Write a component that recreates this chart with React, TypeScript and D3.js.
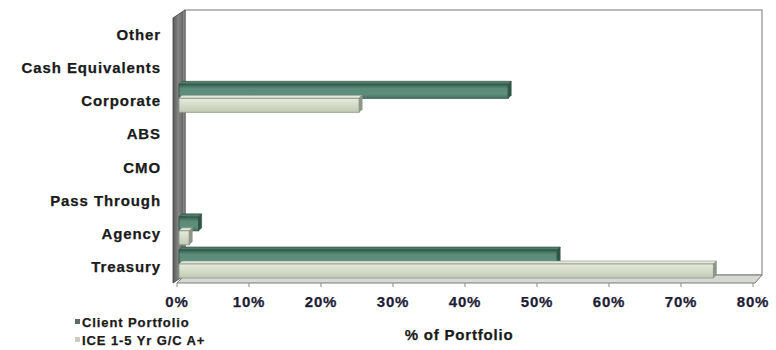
import React from "react";
import * as d3 from "d3";

// Sector allocation, listed top to bottom as drawn
const categories = [
  "Other",
  "Cash Equivalents",
  "Corporate",
  "ABS",
  "CMO",
  "Pass Through",
  "Agency",
  "Treasury",
];
const clientPortfolio = [0, 0, 46, 0, 0, 0, 3, 52.8];
const benchmark = [0, 0, 25.3, 0, 0, 0, 1.7, 74.5];
const seriesNames = ["Client Portfolio", "ICE 1-5 Yr G/C A+"];
const tickValues = [0, 10, 20, 30, 40, 50, 60, 70, 80];

const W = 776;
const H = 350;
const DEPTH = 8; // 3D offset of the back plane
const FRONT_LEFT = 177;
const FRONT_RIGHT = 753;
const TOP = 18;
const BOTTOM = 283;

const LABEL_FONT = "'Liberation Sans', Arial, sans-serif";

export default function App() {
  const x = d3.scaleLinear().domain([0, 80]).range([FRONT_LEFT, FRONT_RIGHT]);
  const y = d3.scalePoint<string>().domain(categories).range([35, 267]);

  const barH = 14;
  const cap = 3;

  const bar = (
    key: string,
    v: number,
    yTop: number,
    top: string,
    end: string,
    stroke: string,
    gradId: string
  ) => {
    if (v <= 0) return null;
    const x0 = x(0) + 2;
    const x1 = x(v);
    return (
      <g key={key}>
        <path
          d={`M${x0},${yTop} L${x0 + cap},${yTop - cap} L${x1 + cap},${yTop - cap} L${x1},${yTop} Z`}
          fill={top}
          stroke={stroke}
          strokeWidth={0.6}
        />
        <rect
          x={x0}
          y={yTop}
          width={x1 - x0}
          height={barH}
          fill={`url(#${gradId})`}
          stroke={stroke}
          strokeWidth={0.8}
        />
        <path
          d={`M${x1},${yTop} L${x1 + cap},${yTop - cap} L${x1 + cap},${yTop + barH - cap} L${x1},${yTop + barH} Z`}
          fill={end}
          stroke={stroke}
          strokeWidth={0.6}
        />
      </g>
    );
  };

  const backL = FRONT_LEFT + DEPTH;
  const backR = FRONT_RIGHT + DEPTH + 1;
  const backTop = TOP - DEPTH;
  const backBottom = BOTTOM - DEPTH;

  const textStyle = {
    fontFamily: LABEL_FONT,
    fontWeight: "bold" as const,
    stroke: "#1a1a1a",
    strokeWidth: 0.25,
  };

  return (
    <svg
      width={W}
      height={H}
      style={{ position: "absolute", left: 0, top: 0, background: "#ffffff" }}
    >
      <defs>
        <linearGradient id="wallGrad" x1="0" y1="0" x2="1" y2="0">
          <stop offset="0" stopColor="#5a5a5a" />
          <stop offset="0.45" stopColor="#858585" />
          <stop offset="0.8" stopColor="#6a6a6a" />
          <stop offset="1" stopColor="#b0b0b0" />
        </linearGradient>
        <linearGradient id="clientGrad" x1="0" y1="0" x2="0" y2="1">
          <stop offset="0" stopColor="#35604f" />
          <stop offset="0.3" stopColor="#5a8a79" />
          <stop offset="0.7" stopColor="#5f8e7d" />
          <stop offset="1" stopColor="#46715f" />
        </linearGradient>
        <linearGradient id="benchGrad" x1="0" y1="0" x2="0" y2="1">
          <stop offset="0" stopColor="#e6ebdc" />
          <stop offset="0.5" stopColor="#d3dbc7" />
          <stop offset="1" stopColor="#c2cab6" />
        </linearGradient>
      </defs>

      {/* back wall */}
      <rect
        x={backL}
        y={backTop}
        width={backR - backL}
        height={backBottom - backTop}
        fill="#ffffff"
        stroke="#8c8c8c"
        strokeWidth={1.2}
      />

      {/* floor */}
      <path
        d={`M${FRONT_LEFT},${BOTTOM} L${backL},${backBottom} L${backR},${backBottom} L${FRONT_RIGHT + 2},${BOTTOM} Z`}
        fill="#d6d9d2"
        stroke="#7d7d7d"
        strokeWidth={1}
      />

      {/* left wall */}
      <path
        d={`M${FRONT_LEFT - 4},${TOP} L${backL},${backTop} L${backL},${backBottom} L${FRONT_LEFT - 4},${BOTTOM} Z`}
        fill="url(#wallGrad)"
        stroke="#3c3c3c"
        strokeWidth={0.8}
      />

      {/* bars */}
      {categories.map((c, i) => {
        const cy = y(c) as number;
        return (
          <g key={c}>
            {bar(
              `client-${c}`,
              clientPortfolio[i],
              cy - 17,
              "#4f7b6b",
              "#2f5646",
              "#2e4f42",
              "clientGrad"
            )}
            {bar(
              `bench-${c}`,
              benchmark[i],
              cy - 3,
              "#e3e8da",
              "#8f9788",
              "#8a9385",
              "benchGrad"
            )}
          </g>
        );
      })}

      {/* axis ticks */}
      {tickValues.map((t) => (
        <line
          key={`tick-${t}`}
          x1={x(t)}
          x2={x(t)}
          y1={BOTTOM}
          y2={BOTTOM + 4}
          stroke="#8a8a8a"
          strokeWidth={1}
        />
      ))}

      {/* category labels */}
      {categories.map((c) => (
        <text
          key={`lab-${c}`}
          x={161}
          y={(y(c) as number) + 5}
          textAnchor="end"
          fontSize={15}
          letterSpacing={0.9}
          fill="#1a1a1a"
          {...textStyle}
        >
          {c}
        </text>
      ))}

      {/* tick labels */}
      {tickValues.map((t) => (
        <text
          key={`tl-${t}`}
          x={x(t)}
          y={307}
          textAnchor="middle"
          fontSize={15}
          letterSpacing={0.8}
          fill="#1c1c36"
          {...textStyle}
          stroke="#1c1c36"
        >
          {`${t}%`}
        </text>
      ))}

      {/* axis title */}
      <text
        x={459}
        y={340}
        textAnchor="middle"
        fontSize={15}
        letterSpacing={0.8}
        fill="#1a1a1a"
        {...textStyle}
      >
        % of Portfolio
      </text>

      {/* legend */}
      {seriesNames.map((s, i) => (
        <g key={s}>
          <rect
            x={75}
            y={319 + i * 18}
            width={5}
            height={5}
            fill={i === 0 ? "#5e6a64" : "#c9cdc4"}
          />
          <text
            x={82}
            y={327 + i * 18}
            fontSize={13}
            letterSpacing={0.9}
            fill="#1a1a1a"
            {...textStyle}
          >
            {s}
          </text>
        </g>
      ))}
    </svg>
  );
}
